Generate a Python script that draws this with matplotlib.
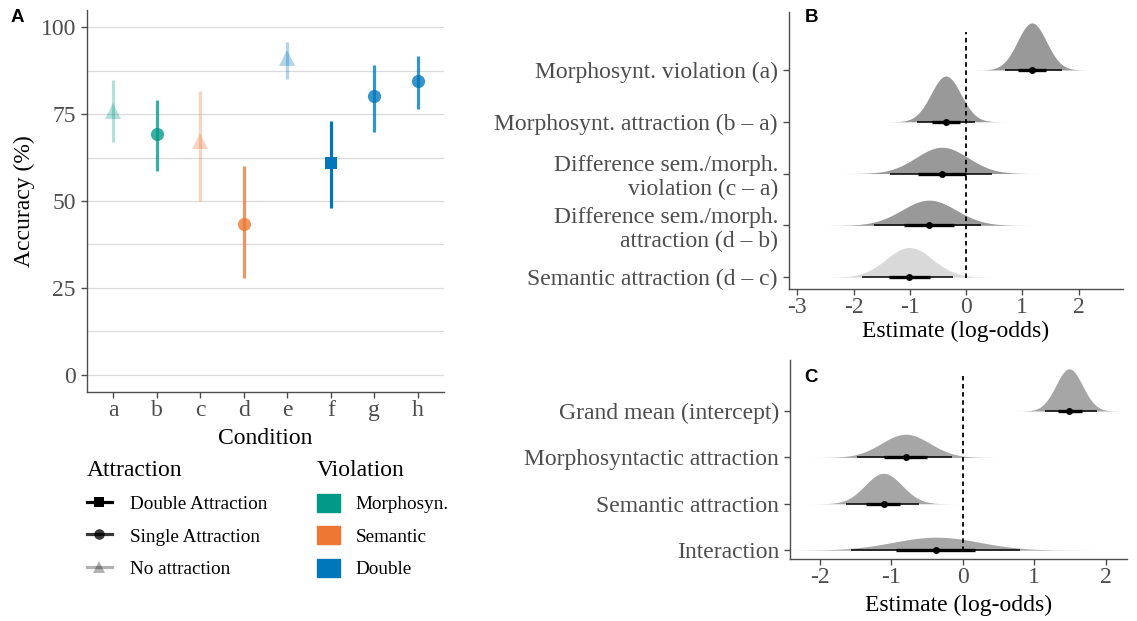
import numpy as np
import matplotlib
matplotlib.use("Agg")
import matplotlib.pyplot as plt
from matplotlib.lines import Line2D
from matplotlib.patches import Patch

plt.rcParams['font.family'] = ['Liberation Serif', 'DejaVu Serif']
plt.rcParams['axes.unicode_minus'] = False

# ---- panel A data
conditions = ['a', 'b', 'c', 'd', 'e', 'f', 'g', 'h']
accuracy = [76.0, 69.3, 67.4, 43.4, 91.1, 60.9, 80.3, 84.6]
acc_lo = [66.9, 58.7, 50.1, 27.8, 85.1, 48.0, 70.0, 76.5]
acc_hi = [84.8, 79.1, 81.8, 60.2, 95.9, 73.1, 89.1, 91.7]
violation = ['Morphosyn.', 'Morphosyn.', 'Semantic', 'Semantic',
             'Double', 'Double', 'Double', 'Double']
attraction = ['No attraction', 'Single Attraction', 'No attraction', 'Single Attraction',
              'No attraction', 'Double Attraction', 'Single Attraction', 'Single Attraction']

viol_levels = ['Morphosyn.', 'Semantic', 'Double']
attr_levels = ['Double Attraction', 'Single Attraction', 'No attraction']

# ---- panel B data (posterior summaries, log-odds)
b_labels = ["Morphosynt. violation (a)",
            "Morphosynt. attraction (b \u2013 a)",
            "Difference sem./morph.\nviolation (c \u2013 a)",
            "Difference sem./morph.\nattraction (d \u2013 b)",
            "Semantic attraction (d \u2013 c)"]
b_point = [1.17, -0.36, -0.43, -0.66, -1.01]
b_lo95 = [0.70, -0.88, -1.35, -1.63, -1.85]
b_hi95 = [1.71, 0.16, 0.46, 0.26, -0.24]
b_lo66 = [0.93, -0.60, -0.86, -1.10, -1.37]
b_hi66 = [1.42, -0.10, -0.01, -0.21, -0.64]

# ---- panel C data
c_labels = ["Grand mean (intercept)", "Morphosyntactic attraction",
            "Semantic attraction", "Interaction"]
c_point = [1.49, -0.80, -1.11, -0.37]
c_lo95 = [1.15, -1.48, -1.63, -1.57]
c_hi95 = [1.88, -0.15, -0.62, 0.80]
c_lo66 = [1.33, -1.10, -1.35, -0.93]
c_hi66 = [1.67, -0.50, -0.88, 0.17]

# styles
viol_colors = {'Morphosyn.': '#009988', 'Semantic': '#EE7733', 'Double': '#0077BB'}
attr_alpha = {'Double Attraction': 1.0, 'Single Attraction': 0.78, 'No attraction': 0.3}
attr_marker = {'Double Attraction': 's', 'Single Attraction': 'o', 'No attraction': '^'}
attr_ms = {'Double Attraction': 9, 'Single Attraction': 9.5, 'No attraction': 11}
axis_grey = '#4D4D4D'

W, H = 1137, 621
fig = plt.figure(figsize=(W / 100, H / 100), dpi=100)


def box(l, t, r, b):
    return [l / W, 1 - b / H, (r - l) / W, (b - t) / H]


def style_axes(ax):
    for s in ['top', 'right']:
        ax.spines[s].set_visible(False)
    for s in ['left', 'bottom']:
        ax.spines[s].set_color(axis_grey)
        ax.spines[s].set_linewidth(1.0)
    ax.tick_params(colors=axis_grey, labelcolor=axis_grey, labelsize=17,
                   length=4, width=1.0)
    ax.tick_params(axis='x', pad=2)
    ax.tick_params(axis='y', pad=4)


# ---------------- panel A
axA = fig.add_axes(box(87, 10, 444, 392))
style_axes(axA)
xs = np.arange(len(conditions))
for yv in np.arange(0, 101, 12.5):
    axA.axhline(yv, color='#DADADA', lw=0.9, zorder=0)
for i in xs:
    col = viol_colors[violation[i]]
    al = attr_alpha[attraction[i]]
    axA.plot([i, i], [acc_lo[i], acc_hi[i]], color=col, alpha=al, lw=2.3,
             solid_capstyle='butt', zorder=2)
    axA.plot(i, accuracy[i], marker=attr_marker[attraction[i]], ms=attr_ms[attraction[i]],
             color=col, alpha=al, mew=0, ls='none', zorder=3)
axA.set_xlim(-0.6, len(conditions) - 0.4)
axA.set_ylim(-5, 105)
axA.set_xticks(xs)
axA.set_xticklabels(conditions)
axA.set_yticks([0, 25, 50, 75, 100])
axA.set_xlabel('Condition', fontsize=17, labelpad=5)
axA.set_ylabel('Accuracy (%)', fontsize=17, labelpad=4)

# legends
attr_handles = [Line2D([0], [0], color='black', alpha=attr_alpha[a], lw=2.3,
                       marker=attr_marker[a], ms=attr_ms[a] * 0.8, mew=0)
                for a in attr_levels]
leg1 = fig.legend(handles=attr_handles, labels=attr_levels, title='Attraction',
                  loc='upper left', bbox_to_anchor=(87 / W, 1 - 460 / H),
                  frameon=False, fontsize=13.8, title_fontsize=17, alignment='left',
                  handlelength=1.3, handleheight=1.05, handletextpad=0.95,
                  labelspacing=0.68, borderpad=0, borderaxespad=0)
viol_handles = [Patch(facecolor=viol_colors[v], edgecolor=viol_colors[v]) for v in viol_levels]
leg2 = fig.legend(handles=viol_handles, labels=viol_levels, title='Violation',
                  loc='upper left', bbox_to_anchor=(317 / W, 1 - 460 / H),
                  frameon=False, fontsize=13.8, title_fontsize=17, alignment='left',
                  handlelength=1.2, handleheight=1.05, handletextpad=0.8,
                  labelspacing=0.68, borderpad=0, borderaxespad=0)


def halfeye(ax, labels, point, lo95, hi95, lo66, hi66, fills, peak=0.91):
    n = len(labels)
    ys = np.arange(n, 0, -1)
    sds = (np.array(hi95) - np.array(lo95)) / 3.92
    scale = peak * sds.min() * np.sqrt(2 * np.pi)
    for i in range(n):
        m, s, y = point[i], sds[i], ys[i]
        gx = np.linspace(m - 4.5 * s, m + 4.5 * s, 400)
        dens = np.exp(-0.5 * ((gx - m) / s) ** 2) / (s * np.sqrt(2 * np.pi)) * scale
        ax.fill_between(gx, y, y + dens, color=fills[i], lw=0, zorder=1)
        ax.plot([lo95[i], hi95[i]], [y, y], color='black', lw=1.1,
                solid_capstyle='butt', zorder=3)
        ax.plot([lo66[i], hi66[i]], [y, y], color='black', lw=2.4,
                solid_capstyle='butt', zorder=3)
        ax.plot(point[i], y, 'o', color='black', ms=5, mew=0, zorder=4)
    ax.set_yticks(ys)
    ax.set_yticklabels(labels, linespacing=1.2, ha='right', multialignment='right')
    return ys


# ---------------- panel B
axB = fig.add_axes(box(789, 12, 1123, 289))
style_axes(axB)
b_fills = ['#999999', '#999999', '#999999', '#999999', '#D9D9D9']
halfeye(axB, b_labels, b_point, b_lo95, b_hi95, b_lo66, b_hi66, b_fills)
axB.plot([0, 0], [0.98, 5.73], color='black', lw=1.3, ls=(0, (2.5, 2)), zorder=2)
axB.set_xlim(-3.15, 2.79)
axB.set_ylim(0.77, 6.12)
axB.set_xticks([-3, -2, -1, 0, 1, 2])
axB.set_xlabel('Estimate (log-odds)', fontsize=17, labelpad=2)

# ---------------- panel C
axC = fig.add_axes(box(790, 360, 1127, 559))
style_axes(axC)
c_fills = ['#A6A6A6'] * 4
halfeye(axC, c_labels, c_point, c_lo95, c_hi95, c_lo66, c_hi66, c_fills)
axC.plot([0, 0], [0.98, 4.76], color='black', lw=1.3, ls=(0, (2.5, 2)), zorder=2)
axC.set_xlim(-2.42, 2.30)
axC.set_ylim(0.81, 5.1)
axC.set_xticks([-2, -1, 0, 1, 2])
axC.set_xlabel('Estimate (log-odds)', fontsize=17, labelpad=5)

# panel letters
for lab, x, y in [('A', 17, 17), ('B', 811, 17), ('C', 811, 377)]:
    fig.text(x / W, 1 - y / H, lab, fontfamily='Liberation Sans', fontweight='bold',
             fontsize=13.5, ha='center', va='center')

fig.savefig('out.png', dpi=100)
